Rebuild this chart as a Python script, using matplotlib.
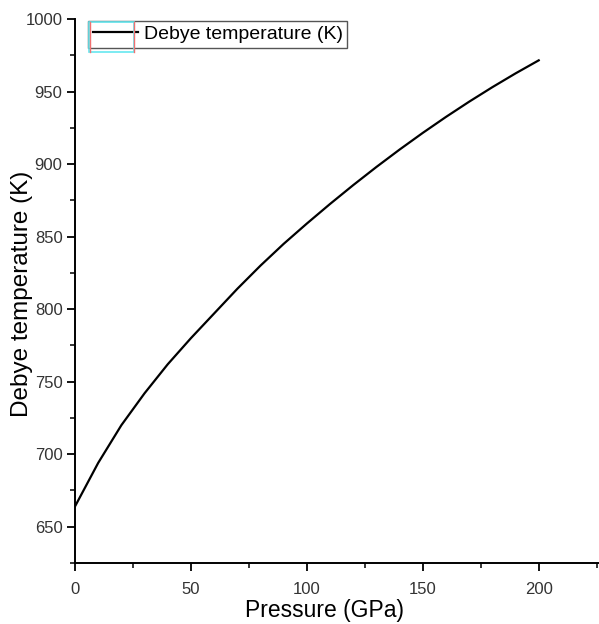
import matplotlib
matplotlib.use("Agg")
import matplotlib.pyplot as plt
from matplotlib.patches import Rectangle
from matplotlib.ticker import MultipleLocator

plt.rcParams["font.family"] = ["Liberation Sans", "DejaVu Sans"]

# values
pressure = [0, 10, 20, 30, 40, 50, 60, 70, 80, 90, 100,
            110, 120, 130, 140, 150, 160, 170, 180, 190, 200]
debye_temp = [664, 694, 720, 742, 762, 780, 797, 814, 830, 845, 859,
              872.5, 885.5, 898, 910, 921.5, 932.5, 943, 953, 962.5, 971.5]

W, H = 599, 624
fig = plt.figure(figsize=(W / 100, H / 100), dpi=100)
ax = fig.add_axes([75 / W, 1 - 563 / H, 524 / W, 544 / H])

ax.plot(pressure, debye_temp, color="black", lw=1.6,
        solid_joinstyle="round", label="Debye temperature (K)")

ax.set_xlim(0, 226)
ax.set_ylim(625, 1000)
ax.xaxis.set_major_locator(MultipleLocator(50))
ax.xaxis.set_minor_locator(MultipleLocator(25))
ax.yaxis.set_major_locator(MultipleLocator(50))
ax.yaxis.set_minor_locator(MultipleLocator(25))

for side in ("top", "right"):
    ax.spines[side].set_visible(False)
for side in ("left", "bottom"):
    ax.spines[side].set_linewidth(1.4)

ax.tick_params(which="major", direction="out", length=6, width=1.3,
               labelsize=12, labelcolor="#333333")
ax.tick_params(axis="x", which="major", pad=8)
ax.tick_params(axis="y", which="major", pad=3)
ax.tick_params(which="minor", direction="out", length=3.5, width=1.1)

ax.set_xlabel("Pressure (GPa)", fontsize=16.5)
ax.xaxis.set_label_coords(0.477, -0.066)
ax.set_ylabel("Debye temperature (K)", fontsize=17.5)
ax.yaxis.set_label_coords(-0.080, 0.495)

leg = ax.legend(loc="upper left", bbox_to_anchor=(0.025, 0.997),
                borderaxespad=0, fontsize=14, handlelength=2.3,
                handletextpad=0.3, borderpad=0.25, fancybox=False,
                framealpha=1)
leg.get_frame().set_edgecolor("#555555")
leg.get_frame().set_linewidth(1.0)

# cyan / red selection box around the legend handle, as in the reference
fig.add_artist(Rectangle((89 / W, 1 - 52 / H), 45 / W, 30 / H,
                         transform=fig.transFigure, fill=False,
                         edgecolor="#66e8f0", lw=1.2))
for xp in (90, 134):
    fig.add_artist(plt.Line2D([xp / W, xp / W], [1 - 52 / H, 1 - 22 / H],
                              transform=fig.transFigure,
                              color="#f07070", lw=1.0))

fig.savefig("out.png", dpi=100)
